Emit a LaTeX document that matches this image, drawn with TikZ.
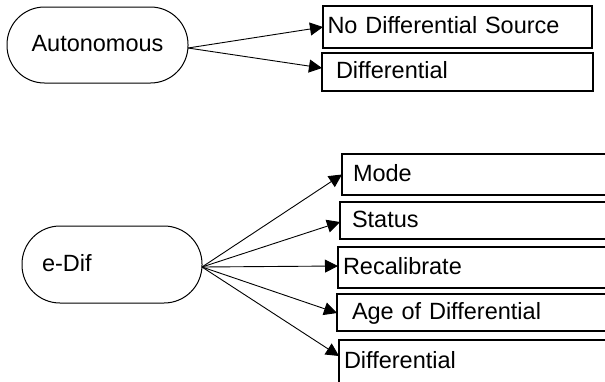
\documentclass[tikz,border=0pt]{standalone}
\usepackage{fontspec}
\setmainfont{Liberation Sans}
\usetikzlibrary{arrows.meta}
\begin{document}
\begin{tikzpicture}[x=1pt,y=-1pt,
  txt/.style={font=\fontsize{23.5pt}{28pt}\selectfont, text height=17pt, text depth=4pt},
  pill/.style={txt, draw, line width=1pt, rectangle, outer sep=0pt, inner ysep=0pt},
  box/.style={txt, draw, line width=2pt, rectangle, anchor=north west, outer sep=0pt, inner ysep=0pt, align=left},
  link/.style={line width=0.9pt, -{Triangle[length=13pt,width=13pt]}}
]
\useasboundingbox (0,0) rectangle (605,381);
\clip (0,0) rectangle (605,381);

% upper group
\node[pill, rounded corners=37.5pt, minimum width=181pt, minimum height=76pt, inner xsep=0pt] (aut) at (97.5,45) {Autonomous};
\node[box, minimum height=42pt, inner xsep=4.5pt, text width=260pt] (nds) at (323,6) {No Differential Source};
\node[box, minimum height=38pt, inner xsep=14pt, text width=243pt] (dif1) at (322,53) {Differential};

\draw[link] ([yshift=-3pt]aut.east) -- (nds.west);
\draw[link] ([yshift=-3pt]aut.east) -- ([yshift=4pt]dif1.west);

% lower group
\node[pill, rounded corners=38pt, minimum height=77pt, inner xsep=20pt, text width=140pt, align=left] (edif) at (112,264.5) {e-Dif};
\node[box, minimum height=41pt, inner xsep=11pt, text width=251pt] (mode) at (342,154) {Mode};
\node[box, minimum height=37pt, inner xsep=12pt, text width=251pt] (status) at (340,202) {Status};
\node[box, minimum height=41pt, inner xsep=5pt, text width=267pt] (recal) at (338,247) {Recalibrate};
\node[box, minimum height=37pt, inner xsep=15pt, text width=248pt] (age) at (337,294) {Age of Differential};
\node[box, minimum height=44pt, inner xsep=5pt, text width=266pt] (dif2) at (339,340) {Differential};

\draw[link] ([yshift=-2.5pt]edif.east) -- (mode.west);
\draw[link] ([yshift=-2.5pt]edif.east) -- ([yshift=-1.5pt]status.west);
\draw[link] ([yshift=-2.5pt]edif.east) -- ([yshift=1.5pt]recal.west);
\draw[link] ([yshift=-2.5pt]edif.east) -- ([yshift=-0.5pt]age.west);
\draw[link] ([yshift=-2.5pt]edif.east) -- ([yshift=-16pt]dif2.north west);
\end{tikzpicture}
\end{document}
